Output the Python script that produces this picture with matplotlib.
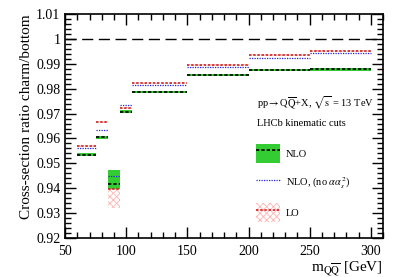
import numpy as np
import matplotlib
matplotlib.use("Agg")
import matplotlib.pyplot as plt
from matplotlib.patches import Patch
from matplotlib.lines import Line2D
from matplotlib.ticker import MultipleLocator

plt.rcParams['font.family'] = ['Liberation Serif', 'DejaVu Serif']
plt.rcParams['mathtext.fontset'] = 'stix'
plt.rcParams['hatch.linewidth'] = 0.6

# bin edges in m_QQbar [GeV]
edges = [60, 75, 85, 95, 105, 150, 200, 250, 300]

nlo = [0.9534, 0.9605, 0.9417, 0.9708, 0.9787, 0.9855, 0.9876, 0.9879]
nlo_lo = [0.9528, 0.9599, 0.9397, 0.9703, 0.9783, 0.9851, 0.9873, 0.9873]
nlo_hi = [0.9540, 0.9611, 0.9474, 0.9713, 0.9791, 0.9859, 0.9879, 0.9885]

nlo_noaa = [0.9561, 0.9634, 0.9450, 0.9733, 0.9815, 0.9888, 0.9925, 0.9942]

lo = [0.9570, 0.9667, 0.9395, 0.9721, 0.9822, 0.9896, 0.9935, 0.9951]
lo_lo = [0.9566, 0.9663, 0.9320, 0.9717, 0.9819, 0.9893, 0.9932, 0.9948]
lo_hi = [0.9574, 0.9671, 0.9472, 0.9725, 0.9825, 0.9899, 0.9938, 0.9954]

green = '#33cc33'
pink = '#ffb3b3'

fig = plt.figure(figsize=(4.07, 2.77), dpi=100)
ax = fig.add_axes([0.16, 0.141, 0.781, 0.808])

for i in range(len(nlo)):
    xs = [edges[i], edges[i + 1]]
    ax.fill_between(xs, lo_lo[i], lo_hi[i], facecolor='none', edgecolor=pink,
                    hatch='xxxxx', linewidth=0)
    ax.fill_between(xs, nlo_lo[i], nlo_hi[i], color=green, linewidth=0)
    ax.plot(xs, [lo[i]] * 2, color='#cc2222', ls=(0, (1.5, 1)), lw=1.2)
    ax.plot(xs, [nlo_noaa[i]] * 2, color='#2222dd', ls=(0, (1, 1)), lw=0.9)
    ax.plot(xs, [nlo[i]] * 2, color='black', ls=(0, (2, 1.2)), lw=1.2)

ax.axhline(1.0, color='black', ls=(0, (8, 4)), lw=1.0)

ax.set_xlim(50, 310)
ax.set_ylim(0.92, 1.01)
ax.xaxis.set_major_locator(MultipleLocator(50))
ax.xaxis.set_minor_locator(MultipleLocator(10))
ax.yaxis.set_minor_locator(MultipleLocator(0.002))
ax.set_yticks(np.arange(0.92, 1.0101, 0.01))
ax.set_yticklabels(['0.92', '0.93', '0.94', '0.95', '0.96', '0.97', '0.98', '0.99', '1', '1.01'])
ax.tick_params(which='both', direction='in', top=True, right=True, labelsize=10, width=1.0)
ax.tick_params(which='major', length=8)
ax.tick_params(which='minor', length=4)
ax.tick_params(axis='x', pad=5)
for s in ax.spines.values():
    s.set_linewidth(1.2)

ax.set_ylabel('Cross-section ratio charm/bottom', fontsize=11, loc='top', labelpad=2)
ax.set_xlabel(r'm$_{\rm Q\overline{Q}}$ [GeV]', fontsize=11, loc='right', labelpad=1)

ax.text(0.604, 0.607, r'pp$\rightarrow$Q$\overline{\rm Q}$+X, $\sqrt{\rm s}$ = 13 TeV',
        transform=ax.transAxes, fontsize=7.5, va='center')
ax.text(0.604, 0.513, 'LHCb kinematic cuts', transform=ax.transAxes, fontsize=7.5, va='center')

handles = [
    (Patch(facecolor=green, linewidth=0), Line2D([], [], color='black', ls=(0, (2, 1.2)), lw=1.2)),
    Line2D([], [], color='#2222dd', ls=(0, (1, 1)), lw=0.9),
    (Patch(facecolor='none', edgecolor=pink, hatch='xxxxx', linewidth=0),
     Line2D([], [], color='#cc2222', ls=(0, (1.5, 1)), lw=1.2)),
]
labels = ['NLO', r'NLO, (no $\alpha\alpha_s^2$)', 'LO']
ax.legend(handles, labels, loc='upper left', bbox_to_anchor=(0.6, 0.42), frameon=False,
          fontsize=7.5, handlelength=2.3, handleheight=2.4, labelspacing=1.05,
          borderpad=0, borderaxespad=0, handletextpad=0.6)

fig.savefig('out.png', dpi=100)
